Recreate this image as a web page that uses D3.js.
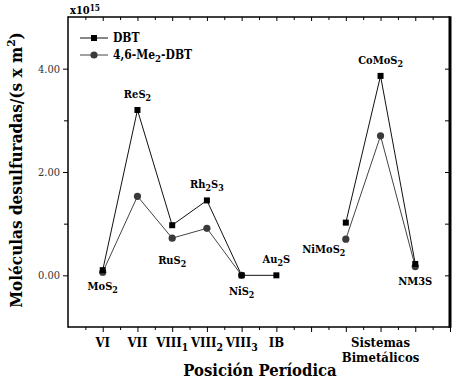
<!DOCTYPE html>
<html>
<head>
<meta charset="utf-8">
<script src="https://cdn.jsdelivr.net/npm/d3@7"></script>
<style>
  body { margin: 0; background: #fff; }
  text { font-family: 'DejaVu Serif Condensed', 'DejaVu Serif', serif; font-stretch: condensed; }
  .bold { font-weight: bold; }
</style>
</head>
<body>
<script>
var width = 457;
var height = 380;
var margin = { left: 68, right: 7, top: 17, bottom: 53 };

// posiciones en el eje x (1..6 grupos, 8..10 bimetálicos)
var groupPos = [1, 2, 3, 4, 5, 6];
var groupLabels = ['VI', 'VII', 'VIII_1', 'VIII_2', 'VIII_3', 'IB'];
var catalysts = ['MoS_2', 'ReS_2', 'RuS_2', 'Rh_2S_3', 'NiS_2', 'Au_2S', 'NiMoS_2', 'CoMoS_2', 'NM3S'];
var catalystPos = [1, 2, 3, 4, 5, 6, 8, 9, 10];
var dbt = [0.10, 3.20, 0.97, 1.45, 0.00, 0.00, 1.02, 3.86, 0.22];
var me2dbt = [0.06, 1.53, 0.72, 0.91, 0.00, null, 0.70, 2.70, 0.17];
var yTicks = [0, 2, 4];

var svg = d3.select('body').append('svg')
  .attr('width', width)
  .attr('height', height);

var x = d3.scaleLinear().domain([0, 11]).range([margin.left, width - margin.right]);
var y = d3.scaleLinear().domain([-1, 5]).range([height - margin.bottom, margin.top]);

// texto con subíndices "_n"
function richText(sel, str, subShift) {
  var parts = str.split('_');
  sel.append('tspan').text(parts[0]);
  parts.slice(1).forEach(function (p) {
    sel.append('tspan').attr('baseline-shift', subShift || '-30%').attr('font-size', '80%').text(p.charAt(0));
    if (p.length > 1) sel.append('tspan').text(p.slice(1));
  });
}

// ejes
var x0 = x.range()[0], x1 = x.range()[1], y0 = y.range()[0], y1 = y.range()[1];
var major = d3.range(0, 12, 1), minor = d3.range(0.5, 11, 1);
function noDomain(g) { g.select('.domain').remove(); }

svg.append('g').attr('transform', 'translate(0,' + y0 + ')')
  .call(d3.axisBottom(x).tickValues(major.slice(1)).tickSize(5).tickFormat('')).call(noDomain);
svg.append('g').attr('transform', 'translate(0,' + y0 + ')')
  .call(d3.axisBottom(x).tickValues(minor).tickSize(3).tickFormat('')).call(noDomain);
svg.append('g').attr('transform', 'translate(0,' + y1 + ')')
  .call(d3.axisBottom(x).tickValues(major.slice(1, 11)).tickSize(4).tickFormat('')).call(noDomain);
svg.append('g').attr('transform', 'translate(0,' + y1 + ')')
  .call(d3.axisBottom(x).tickValues(minor).tickSize(3).tickFormat('')).call(noDomain);

svg.append('g').attr('transform', 'translate(' + x0 + ',0)')
  .call(d3.axisLeft(y).tickValues(yTicks).tickSize(5).tickPadding(3).tickFormat(d3.format('.2f')))
  .call(noDomain)
  .call(function (g) {
    g.selectAll('text').attr('font-size', 11).attr('fill', '#333').style('font-stretch', 'normal');
  });
svg.append('g').attr('transform', 'translate(' + x0 + ',0)')
  .call(d3.axisLeft(y).tickValues([1, 3]).tickSize(4).tickFormat('')).call(noDomain);
svg.append('g').attr('transform', 'translate(' + x1 + ',0)')
  .call(d3.axisLeft(y).tickValues([0, 1, 2, 3, 4]).tickSize(5).tickFormat('')).call(noDomain);

svg.append('line').attr('x1', x0).attr('x2', x1).attr('y1', y0).attr('y2', y0).attr('stroke', '#000').attr('stroke-width', 1.5);
svg.append('line').attr('x1', x0).attr('x2', x1).attr('y1', y1).attr('y2', y1).attr('stroke', '#000').attr('stroke-width', 1.5);
svg.append('line').attr('x1', x0).attr('x2', x0).attr('y1', y0 + 0.75).attr('y2', y1 - 0.75).attr('stroke', '#000').attr('stroke-width', 1.5);
svg.append('line').attr('x1', x1).attr('x2', x1).attr('y1', y0 + 0.75).attr('y2', y1 - 0.75).attr('stroke', '#000').attr('stroke-width', 3);

// etiquetas del eje x
groupLabels.forEach(function (lab, i) {
  var t = svg.append('text').attr('class', 'bold').attr('x', x(groupPos[i])).attr('y', y0 + 20)
    .attr('text-anchor', 'middle').attr('font-size', 13);
  richText(t, lab, '-35%');
});
svg.append('text').attr('class', 'bold').attr('x', x(9)).attr('y', y0 + 20)
  .attr('text-anchor', 'middle').attr('font-size', 13).text('Sistemas');
svg.append('text').attr('class', 'bold').attr('x', x(9)).attr('y', y0 + 35)
  .attr('text-anchor', 'middle').attr('font-size', 13).text('Bimetálicos');

svg.append('text').attr('class', 'bold').attr('x', 260).attr('y', 376)
  .attr('text-anchor', 'middle').attr('font-size', 16.5).text('Posición Períodica');

var yt = svg.append('text').attr('class', 'bold').attr('transform', 'translate(22,170) rotate(-90)')
  .attr('text-anchor', 'middle').attr('font-size', 17);
yt.append('tspan').text('Moléculas desulfuradas/(s x m');
yt.append('tspan').attr('baseline-shift', 'super').attr('font-size', '70%').text('2');
yt.append('tspan').text(')');

var mult = svg.append('text').attr('class', 'bold').attr('x', x0 + 2).attr('y', 14).attr('font-size', 11);
mult.append('tspan').text('x10');
mult.append('tspan').attr('baseline-shift', '35%').attr('font-size', '75%').text('15');

// series, cortadas en el hueco entre IB y los bimetálicos
function drawLine(vals, color) {
  var runs = [[]];
  vals.forEach(function (v, i) {
    if (v == null || (i > 0 && catalystPos[i] - catalystPos[i - 1] > 1)) runs.push([]);
    if (v != null) runs[runs.length - 1].push(i);
  });
  var line = d3.line().x(function (i) { return x(catalystPos[i]); }).y(function (i) { return y(vals[i]); });
  runs.filter(function (r) { return r.length > 1; }).forEach(function (r) {
    svg.append('path').attr('d', line(r)).attr('fill', 'none').attr('stroke', color).attr('stroke-width', 1);
  });
}
drawLine(me2dbt, '#444');
drawLine(dbt, '#111');

svg.selectAll('.circ').data(me2dbt.map(function (v, i) { return { v: v, i: i }; }).filter(function (d) { return d.v != null; }))
  .enter().append('circle').attr('class', 'circ')
  .attr('cx', function (d) { return x(catalystPos[d.i]); })
  .attr('cy', function (d) { return y(d.v); })
  .attr('r', 3.6).attr('fill', '#3a3a3a');
svg.selectAll('.sq').data(dbt.map(function (v, i) { return { v: v, i: i }; }))
  .enter().append('rect').attr('class', 'sq')
  .attr('x', function (d) { return x(catalystPos[d.i]) - 3; })
  .attr('y', function (d) { return y(d.v) - 3; })
  .attr('width', 6).attr('height', 6).attr('fill', '#000');

// etiquetas de catalizadores: serie de referencia y desplazamiento
var labelRef = ['me', 'dbt', 'me', 'dbt', 'dbt', 'dbt', 'dbt', 'dbt', 'me'];
var labelOffsets = [[0, 18], [0, -12], [0, 26], [0, -12], [0, 20], [0, -12], [-22, 30], [0, -12], [0, 18]];
catalysts.forEach(function (name, i) {
  var v = labelRef[i] === 'me' ? me2dbt[i] : dbt[i];
  var t = svg.append('text').attr('class', 'bold')
    .attr('x', x(catalystPos[i]) + labelOffsets[i][0])
    .attr('y', y(v) + labelOffsets[i][1])
    .attr('text-anchor', 'middle').attr('font-size', 11);
  richText(t, name, '-30%');
});

// leyenda
var legend = [{ name: 'DBT', shape: 'sq', color: '#111' }, { name: '4,6-Me_2-DBT', shape: 'circ', color: '#444' }];
legend.forEach(function (d, i) {
  var ly = 38 + i * 17;
  svg.append('line').attr('x1', 80).attr('x2', 108).attr('y1', ly).attr('y2', ly).attr('stroke', d.color);
  if (d.shape === 'sq') svg.append('rect').attr('x', 91).attr('y', ly - 3).attr('width', 6).attr('height', 6).attr('fill', '#000');
  else svg.append('circle').attr('cx', 94).attr('cy', ly).attr('r', 3.6).attr('fill', '#3a3a3a');
  var t = svg.append('text').attr('class', 'bold').attr('x', 113).attr('y', ly + 4).attr('font-size', 12);
  richText(t, d.name, '-30%');
});
</script>
</body>
</html>
